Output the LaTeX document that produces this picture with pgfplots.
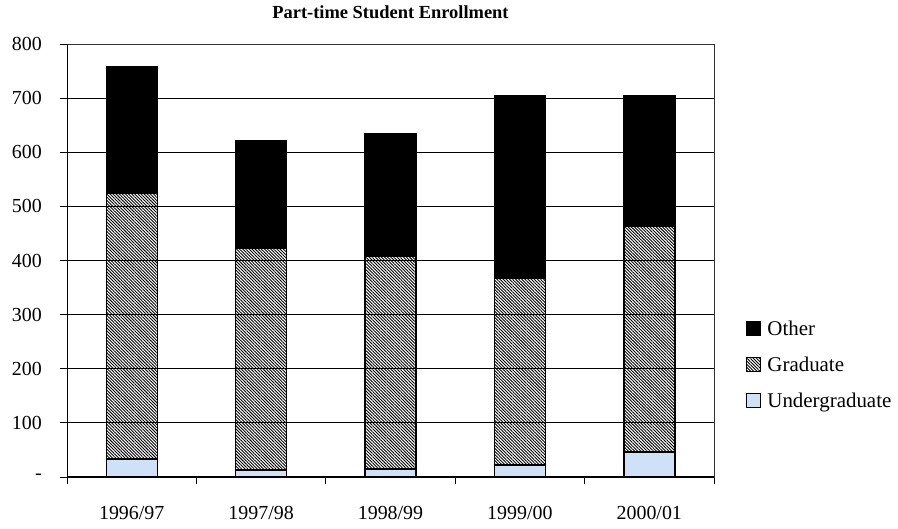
\documentclass[border=0pt]{standalone}
\usepackage{fontspec}
\setmainfont{Liberation Serif}
\usepackage{pgfplots}
\pgfplotsset{compat=1.18}
\usetikzlibrary{patterns.meta}

\definecolor{ugblue}{RGB}{206,225,247}

\begin{document}
\begin{tikzpicture}
\path[use as bounding box] (-67bp,-52bp) rectangle (831bp,477bp);
\begin{axis}[
  at={(0,0)}, anchor=south west,
  scale only axis,
  width=647bp, height=433bp,
  ybar stacked,
  bar width=51bp,
  xmin=-0.5, xmax=4.5,
  ymin=0, ymax=800,
  xtick={0,1,2,3,4},
  xticklabels={1996/97,1997/98,1998/99,1999/00,2000/01},
  minor xtick={-0.5,0.5,1.5,2.5,3.5,4.5},
  ytick={0,100,...,800},
  yticklabels={-\hspace{23bp},100,200,300,400,500,600,700,800},
  major x tick style={draw=none},
  minor x tick style={black, line width=0.8bp},
  minor tick length=7bp,
  major tick length=7bp,
  tick align=outside,
  xtick pos=bottom, ytick pos=left,
  ytick style={black, line width=0.8bp},
  ymajorgrids,
  grid style={black, line width=0.8bp},
  axis line style={black!80, line width=0.8bp},
  tick label style={font=\fontsize{20}{24}\selectfont},
  /pgf/number format/assume math mode=true,
  xticklabel style={anchor=north, inner sep=0pt, yshift=-22bp},
  yticklabel style={anchor=east, inner sep=0pt, xshift=-18bp},
  title={Part-time Student Enrollment},
  title style={at={(axis description cs:0.5,1)}, anchor=center, yshift=26bp,
    font=\bfseries\fontsize{18.5}{22}\selectfont},
  legend style={draw=none, fill=none, inner sep=0pt,
    at={(axis description cs:1.0495,0.2587)}, anchor=west,
    font=\fontsize{21}{25}\selectfont,
    row sep=19.5bp, column sep=6bp,
    nodes={inner sep=0pt}},
  legend cell align=left,
  reverse legend,
  legend image code/.code={\draw[#1, line width=1.2bp] (0bp,-6bp) rectangle (14bp,8bp);},
]
\addplot[draw=black, line width=1.4bp, fill=ugblue]
  coordinates {(0,33) (1,13) (2,15) (3,22) (4,46)};
\addplot[draw=black, line width=1.4bp,
  pattern={Lines[angle=-45, distance=2.2bp, line width=0.9bp]}, pattern color=black]
  coordinates {(0,491) (1,410) (2,392) (3,345) (4,418)};
\addplot[draw=black, line width=1.4bp, fill=black]
  coordinates {(0,234) (1,198) (2,227) (3,338) (4,241)};
\legend{Undergraduate,Graduate,Other}
\draw[black, line width=1.5bp] (rel axis cs:0,0) -- (rel axis cs:1,0);
\draw[black, line width=1.2bp] (rel axis cs:0,0) -- (rel axis cs:0,1);
\end{axis}
\end{tikzpicture}
\end{document}
